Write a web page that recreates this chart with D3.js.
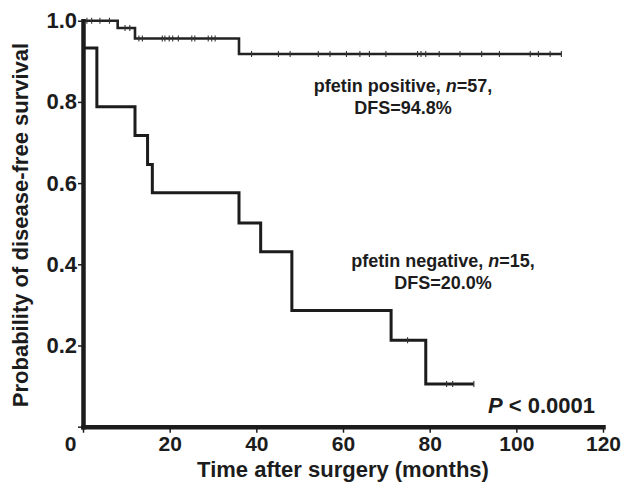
<!DOCTYPE html>
<html>
<head>
<meta charset="utf-8">
<script src="https://cdn.jsdelivr.net/npm/d3@7"></script>
<style>
  body { margin: 0; background: #fff; }
  svg text { font-family: "Liberation Sans", Arial, sans-serif; font-weight: bold; fill: #1c1c1c; }
</style>
</head>
<body>
<script>
// data (months, survival)

// pfetin positive
var posTimes = [0, 8, 12, 36];
var posSurv = [1.0, 0.982, 0.956, 0.918];
var posEnd = 110.4;
var posCensor = [0.9, 2, 3.9, 6.1, 9.7, 10.8, 12.9, 13.7, 18.3, 18.9, 19.9, 20.7, 22, 25.1, 25.8,
	28.9, 29.7, 30.5, 38.9, 45.1, 47.8, 54.3, 57.0, 60.8, 63.9, 66.1, 69.9, 77.2, 78, 79.1,
	82.2, 87, 92, 96.1, 103.2, 105.1, 107.8, 110.4];

// pfetin negative
var negTimes = [0, 3.2, 12, 14.9, 16, 36, 41, 48.2, 71.1, 79.1];
var negSurv = [0.933, 0.788, 0.717, 0.646, 0.576, 0.502, 0.431, 0.286, 0.213, 0.105];
var negEnd = 90.2;
var negCensor = [74.9, 83.9, 85.3, 90.2];

var xTicks = [0, 20, 40, 60, 80, 100, 120];
var yTicks = [0, 0.2, 0.4, 0.6, 0.8, 1.0];


// svg and scales
var margin = {top: 20.7, right: 19, bottom: 56.3, left: 83};
var width = 622 - margin.left - margin.right,
	height = 483 - margin.top - margin.bottom;

var svg = d3.select('body').append('svg')
		.attr('width', 622)
		.attr('height', 483)
	.append('g')
		.attr('transform', 'translate(' + margin.left + ',' + margin.top + ')');

var x = d3.scaleLinear().domain([0, 120]).range([0, width]);
var y = d3.scaleLinear().domain([0, 1]).range([height, 0]);

// step value at time t
function survAt(times, surv, t) {
	var v = surv[0];
	for (var i = 0; i < times.length; i++) {
		if (times[i] <= t) v = surv[i];
	}
	return v;
}

function stepPoints(times, surv, end) {
	var pts = [];
	for (var i = 0; i < times.length; i++) pts.push([times[i], surv[i]]);
	pts.push([end, surv[surv.length - 1]]);
	return pts;
}

var line = d3.line()
	.x(function(d) { return x(d[0]); })
	.y(function(d) { return y(d[1]); })
	.curve(d3.curveStepAfter);

// curves
svg.append('path')
	.datum(stepPoints(posTimes, posSurv, posEnd))
	.attr('d', line)
	.style('fill', 'none')
	.style('stroke', '#222')
	.style('stroke-width', 2.6);

svg.append('path')
	.datum(stepPoints(negTimes, negSurv, negEnd))
	.attr('d', line)
	.style('fill', 'none')
	.style('stroke', '#1c1c1c')
	.style('stroke-width', 3);

// censor marks
svg.selectAll('.cpos')
	.data(posCensor)
	.enter().append('line')
	.attr('class', 'cpos')
	.attr('x1', function(d) { return x(d); })
	.attr('x2', function(d) { return x(d); })
	.attr('y1', function(d) { return y(survAt(posTimes, posSurv, d)) - 3; })
	.attr('y2', function(d) { return y(survAt(posTimes, posSurv, d)) + 3; })
	.style('stroke', '#333')
	.style('stroke-width', 1.1);

svg.selectAll('.cneg')
	.data(negCensor)
	.enter().append('line')
	.attr('class', 'cneg')
	.attr('x1', function(d) { return x(d); })
	.attr('x2', function(d) { return x(d); })
	.attr('y1', function(d) { return y(survAt(negTimes, negSurv, d)) - 3; })
	.attr('y2', function(d) { return y(survAt(negTimes, negSurv, d)) + 3; })
	.style('stroke', '#333')
	.style('stroke-width', 1.1);


// axes
var xAxis = svg.append('g')
	.attr('transform', 'translate(0,' + height + ')')
	.call(d3.axisBottom(x)
		.tickValues(xTicks)
		.tickSize(6)
		.tickSizeOuter(0)
		.tickPadding(3)
		.tickFormat(d3.format('d')));

var yAxis = svg.append('g')
	.call(d3.axisLeft(y)
		.tickValues(yTicks)
		.tickSize(5)
		.tickSizeOuter(0)
		.tickPadding(1)
		.tickFormat(function(d) { return d === 0 ? '' : d3.format('.1f')(d); }));

[xAxis, yAxis].forEach(function(a) {
	a.select('.domain')
		.style('stroke', '#1c1c1c')
		.style('stroke-width', 4.5)
		.style('stroke-linecap', 'square');
	a.selectAll('.tick line')
		.style('stroke', '#1c1c1c')
		.style('stroke-width', 1.5);
	a.selectAll('.tick text')
		.attr('fill', '#1c1c1c');
});
xAxis.selectAll('.tick text').style('font-size', '21px');
yAxis.selectAll('.tick text').style('font-size', '22px');

// the origin "0" sits left of the axis
xAxis.selectAll('.tick text')
	.attr('dx', function(d) { return d === 0 ? -13 : 0; });


// axis titles
svg.append('text')
	.attr('x', width / 2)
	.attr('y', 477.5 - margin.top)
	.attr('text-anchor', 'middle')
	.style('font-size', '22px')
	.text('Time after surgery (months)');

svg.append('text')
	.attr('transform', 'rotate(-90)')
	.attr('x', -(225 - margin.top))
	.attr('y', 27.5 - margin.left)
	.attr('text-anchor', 'middle')
	.style('font-size', '22px')
	.text('Probability of disease-free survival');


// group labels
function groupLabel(cx, by, name, n, dfs) {
	var t = svg.append('text')
		.attr('x', cx - margin.left)
		.attr('y', by - margin.top)
		.attr('text-anchor', 'middle')
		.style('font-size', '18px');
	t.append('tspan').text(name + ', ');
	t.append('tspan').style('font-style', 'italic').text('n');
	t.append('tspan').text('=' + n + ',');

	svg.append('text')
		.attr('x', cx - margin.left)
		.attr('y', by + 22.5 - margin.top)
		.attr('text-anchor', 'middle')
		.style('font-size', '18px')
		.text('DFS=' + dfs);
}

groupLabel(403, 92, 'pfetin positive', 57, '94.8%');
groupLabel(443, 267, 'pfetin negative', 15, '20.0%');

var pText = svg.append('text')
	.attr('x', 595 - margin.left)
	.attr('y', 413.3 - margin.top)
	.attr('text-anchor', 'end')
	.style('font-size', '22px');
pText.append('tspan').style('font-style', 'italic').text('P');
pText.append('tspan').text(' < 0.0001');
</script>
</body>
</html>
